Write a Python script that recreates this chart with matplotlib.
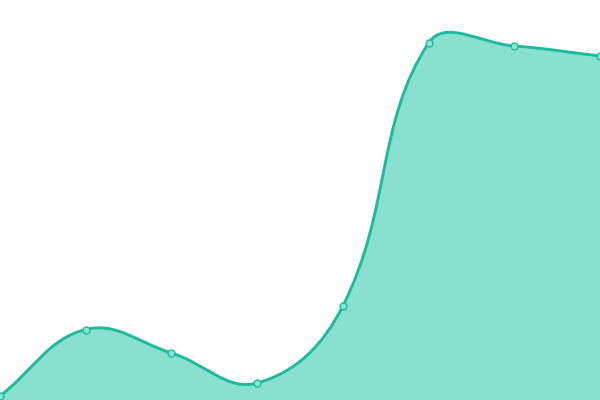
import matplotlib
matplotlib.use("Agg")
import matplotlib.pyplot as plt
from matplotlib.path import Path
from matplotlib.patches import PathPatch
import numpy as np

# values
labels = ["A", "B", "C", "D", "E", "F", "G", "H"]
values = [4, 70.5, 47, 17, 94, 357, 354, 344]

line_color = "#1abc9c"
fill_color = "#89e0cf"
ymax = 400
tension = 0.4

fig = plt.figure(figsize=(6, 4), dpi=100)
ax = fig.add_axes([0, 0, 1, 1])
ax.set_xlim(0, len(values) - 1)
ax.set_ylim(0, ymax)
ax.axis("off")

x = np.arange(len(values), dtype=float)
y = np.array(values, dtype=float)

# scale to pixels so the spline tension behaves like on screen
sx = 600 / (len(values) - 1)
sy = 400 / ymax
px, py = x * sx, y * sy


def controls(i):
    prev_i = max(i - 1, 0)
    next_i = min(i + 1, len(px) - 1)
    d01 = np.hypot(px[i] - px[prev_i], py[i] - py[prev_i])
    d12 = np.hypot(px[next_i] - px[i], py[next_i] - py[i])
    tot = d01 + d12
    s01 = d01 / tot if tot else 0
    s12 = d12 / tot if tot else 0
    dx = px[next_i] - px[prev_i]
    dy = py[next_i] - py[prev_i]
    before = (px[i] - tension * s01 * dx, py[i] - tension * s01 * dy)
    after = (px[i] + tension * s12 * dx, py[i] + tension * s12 * dy)
    return before, after


verts = [(px[0], py[0])]
codes = [Path.MOVETO]
for i in range(len(px) - 1):
    _, c1 = controls(i)
    c2, _ = controls(i + 1)
    verts += [c1, c2, (px[i + 1], py[i + 1])]
    codes += [Path.CURVE4] * 3

verts = [(vx / sx, vy / sy) for vx, vy in verts]

# filled area under the curve
fill_verts = verts + [(x[-1], 0), (x[0], 0), verts[0]]
fill_codes = codes + [Path.LINETO, Path.LINETO, Path.CLOSEPOLY]
ax.add_patch(PathPatch(Path(fill_verts, fill_codes), facecolor=fill_color,
                       edgecolor="none"))

ax.add_patch(PathPatch(Path(verts, codes), facecolor="none",
                       edgecolor=line_color, lw=2.1, capstyle="round"))

ax.plot(x, y, "o", ms=5, mfc="#8fe3d2", mec=line_color, mew=1, zorder=5)

fig.savefig("out.png", dpi=100)
